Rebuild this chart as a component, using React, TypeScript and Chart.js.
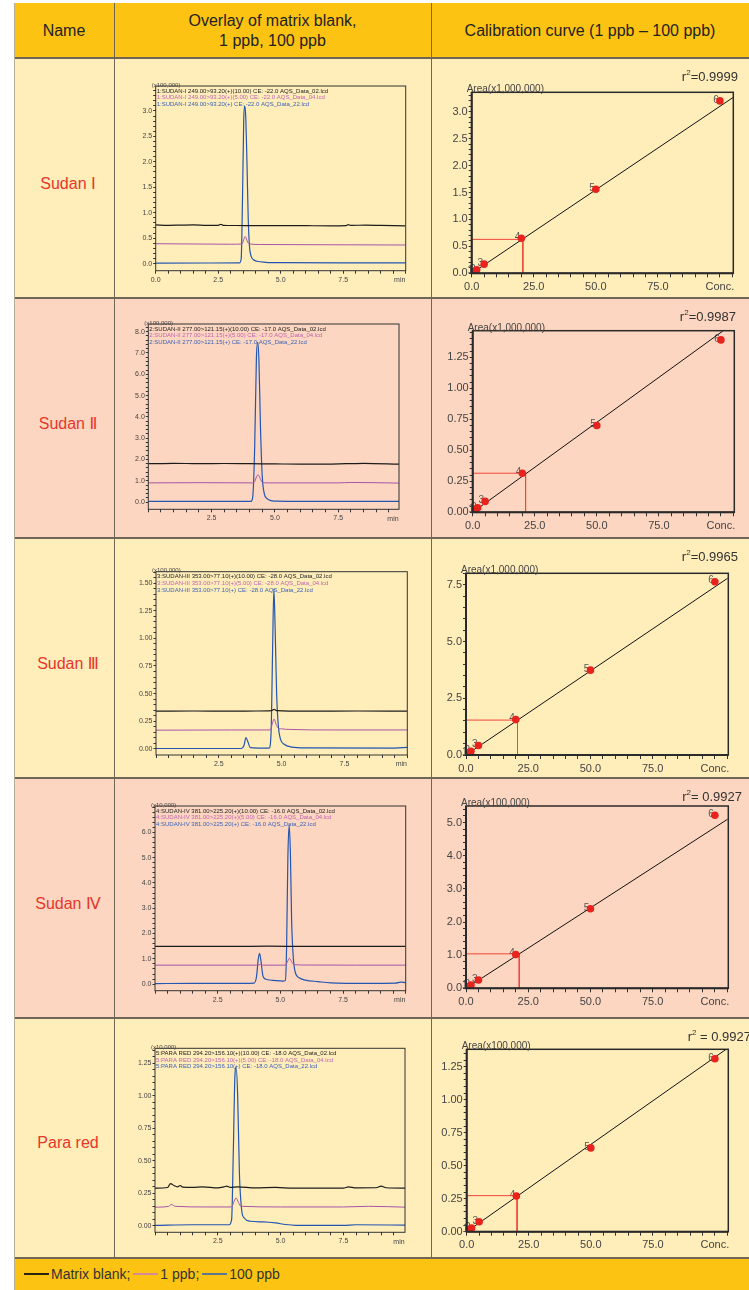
import React, { useEffect, useRef } from 'react';
import { Chart, registerables } from 'chart.js';

Chart.register(...registerables);

const FONT = '"Liberation Sans", Arial, "DejaVu Sans", sans-serif';
Chart.defaults.font.family = FONT;

// ---------------- text ----------------
const ROW_NAMES = ['Sudan Ⅰ', 'Sudan Ⅱ', 'Sudan Ⅲ', 'Sudan Ⅳ', 'Para red'];
const HEADER_NAME = 'Name';
const HEADER_OVERLAY = ['Overlay of matrix blank,', '1 ppb, 100 ppb'];
const HEADER_CAL = 'Calibration curve (1 ppb – 100 ppb)';
const LEGEND_LABELS = ['Matrix blank;', '1 ppb;', '100 ppb'];

// ---------------- chromatograms: [time (min), intensity] ----------------
const S1_BLANK = [[0,0.76],[0.5,0.752],[1.0,0.756],[1.5,0.76],[2.0,0.752],[2.5,0.75],[2.6,0.772],[2.7,0.752],[3.2,0.748],[4.0,0.745],[5.0,0.746],[6.0,0.744],[7.0,0.742],[7.6,0.746],[7.7,0.764],[7.8,0.75],[8.4,0.756],[9.0,0.75],[9.5,0.745],[10,0.74]];
const S1_LOW = [[0,0.39],[1.5,0.385],[3.0,0.38],[3.45,0.385],[3.52,0.47],[3.57,0.53],[3.62,0.5],[3.68,0.42],[3.75,0.385],[4.2,0.375],[7,0.37],[10,0.365]];
const S1_HIGH = [[0,0.01],[3.35,0.012],[3.42,0.1],[3.47,1.2],[3.52,2.8],[3.56,3.1],[3.6,2.9],[3.65,2.0],[3.7,0.9],[3.75,0.35],[3.82,0.14],[3.9,0.08],[4.05,0.045],[4.4,0.025],[5,0.018],[7.5,0.015],[10,0.015]];

const S2_BLANK = [[0,1.8],[1,1.82],[2,1.8],[3,1.81],[4,1.8],[5,1.79],[6,1.78],[7,1.78],[7.8,1.8],[8.5,1.82],[9.9,1.78]];
const S2_LOW = [[0,0.9],[2,0.91],[4.1,0.9],[4.2,0.96],[4.3,1.25],[4.35,1.27],[4.42,1.1],[4.5,0.93],[4.7,0.9],[7.5,0.9],[8,0.92],[9.9,0.89]];
const S2_HIGH = [[0,0.03],[4.05,0.03],[4.12,0.2],[4.2,2.5],[4.27,6.8],[4.32,7.5],[4.37,6.6],[4.43,3.5],[4.5,1.2],[4.58,0.4],[4.7,0.15],[4.85,0.07],[5.1,0.04],[6,0.03],[9.9,0.03]];

const S3_BLANK = [[0,0.34],[1.5,0.342],[3,0.34],[4.0,0.342],[4.6,0.345],[4.7,0.358],[4.8,0.345],[6,0.34],[8,0.342],[10,0.34]];
const S3_LOW = [[0,0.168],[3,0.17],[4.55,0.17],[4.62,0.22],[4.7,0.27],[4.78,0.22],[4.85,0.19],[5.0,0.18],[5.3,0.175],[7,0.17],[10,0.17]];
const S3_HIGH = [[0,0.002],[3.4,0.002],[3.5,0.03],[3.58,0.1],[3.66,0.06],[3.75,0.01],[4.5,0.005],[4.58,0.15],[4.64,0.9],[4.69,1.45],[4.74,1.1],[4.8,0.5],[4.87,0.2],[4.95,0.09],[5.1,0.04],[5.4,0.015],[6,0.008],[9.5,0.005],[10,0.012]];

const S4_BLANK = [[0,1.49],[1.5,1.495],[3,1.49],[4.5,1.5],[6,1.49],[8,1.492],[10,1.49]];
const S4_LOW = [[0,0.75],[4.1,0.75],[4.2,0.78],[4.3,0.75],[5.2,0.75],[5.28,0.88],[5.36,1.02],[5.44,0.9],[5.55,0.77],[6,0.755],[8,0.75],[10,0.75]];
const S4_HIGH = [[0,0.02],[1.5,0.03],[3.5,0.03],[3.95,0.04],[4.05,0.3],[4.12,1.0],[4.17,1.22],[4.23,0.9],[4.3,0.35],[4.4,0.2],[4.7,0.15],[5.1,0.12],[5.2,0.15],[5.25,1.5],[5.3,5.0],[5.35,6.28],[5.4,5.2],[5.45,2.5],[5.52,1.0],[5.6,0.45],[5.75,0.25],[6.0,0.16],[6.5,0.1],[7.0,0.05],[8.5,0.03],[9.6,0.04],[9.8,0.08],[10,0.06]];

const S5_BLANK = [[0,0.29],[0.5,0.295],[0.62,0.325],[0.75,0.31],[0.9,0.3],[1.0,0.31],[1.1,0.298],[1.5,0.295],[1.9,0.3],[2.5,0.292],[2.75,0.3],[2.85,0.305],[3.0,0.295],[3.3,0.3],[4,0.292],[4.8,0.295],[5.5,0.29],[6.5,0.29],[7.5,0.29],[7.7,0.3],[8,0.292],[8.8,0.293],[9.0,0.305],[9.2,0.293],[10,0.29]];
const S5_LOW = [[0,0.143],[0.55,0.15],[0.65,0.165],[0.8,0.15],[2,0.145],[3.05,0.145],[3.15,0.19],[3.23,0.215],[3.32,0.18],[3.42,0.15],[5,0.145],[7.5,0.145],[8.5,0.15],[10,0.143]];
const S5_HIGH = [[0,0.003],[1.5,0.008],[2.95,0.008],[3.05,0.05],[3.12,0.6],[3.18,1.15],[3.23,1.22],[3.29,1.0],[3.36,0.4],[3.45,0.12],[3.55,0.06],[3.8,0.035],[4.3,0.03],[4.8,0.022],[5.2,0.01],[5.6,0.004],[7.5,0.003],[8,0.008],[10,0.005]];

const CHROM_TRACES = [
  [S1_BLANK, S1_LOW, S1_HIGH],
  [S2_BLANK, S2_LOW, S2_HIGH],
  [S3_BLANK, S3_LOW, S3_HIGH],
  [S4_BLANK, S4_LOW, S4_HIGH],
  [S5_BLANK, S5_LOW, S5_HIGH],
];

const CHROM_LEGENDS = [
  ['1:SUDAN-I 249.00>93.20(+)(10.00) CE: -22.0 AQS_Data_02.lcd', '1:SUDAN-I 249.00>93.20(+)(5.00) CE: -22.0 AQS_Data_04.lcd', '1:SUDAN-I 249.00>93.20(+) CE: -22.0 AQS_Data_22.lcd'],
  ['2:SUDAN-II 277.00>121.15(+)(10.00) CE: -17.0 AQS_Data_02.lcd', '2:SUDAN-II 277.00>121.15(+)(5.00) CE: -17.0 AQS_Data_04.lcd', '2:SUDAN-II 277.00>121.15(+) CE: -17.0 AQS_Data_22.lcd'],
  ['3:SUDAN-III 353.00>77.10(+)(10.00) CE: -28.0 AQS_Data_02.lcd', '3:SUDAN-III 353.00>77.10(+)(5.00) CE: -28.0 AQS_Data_04.lcd', '3:SUDAN-III 353.00>77.10(+) CE: -28.0 AQS_Data_22.lcd'],
  ['4:SUDAN-IV 381.00>225.20(+)(10.00) CE: -16.0 AQS_Data_02.lcd', '4:SUDAN-IV 381.00>225.20(+)(5.00) CE: -16.0 AQS_Data_04.lcd', '4:SUDAN-IV 381.00>225.20(+) CE: -16.0 AQS_Data_22.lcd'],
  ['5:PARA RED 294.20>156.10(+)(10.00) CE: -18.0 AQS_Data_02.lcd', '5:PARA RED 294.20>156.10(+)(5.00) CE: -18.0 AQS_Data_04.lcd', '5:PARA RED 294.20>156.10(+) CE: -18.0 AQS_Data_22.lcd'],
];
const CHROM_UNITS = ['(x100,000)', '(x100,000)', '(x100,000)', '(x10,000)', '(x10,000)'];

// axis settings per chromatogram
const CHROM_Y_MIN = [-0.14, -0.34, -0.057, -0.26, -0.05];
const CHROM_Y_MAX = [3.49, 8.36, 1.605, 7.04, 1.366];
const CHROM_Y_MAJOR = [0.5, 1.0, 0.25, 1.0, 0.25];
const CHROM_Y_MINOR = [0.1, 0.2, 0.05, 0.2, 0.05];
const CHROM_Y_LABEL_MAX = [3.0, 8.0, 1.5, 6.0, 1.25];
const CHROM_Y_DEC = [1, 1, 2, 1, 2];
const CHROM_X_MAX = [10, 9.9, 10, 10, 9.95];
const CHROM_X_LABELS = [0, 2.5, 5, 7.5];
const CHROM_X_ZERO_LABEL = [true, false, false, false, false];

// ---------------- calibration curves ----------------
const CONC = [1, 2, 5, 20, 50, 100];
const AREA_1 = [0.03, 0.065, 0.17, 0.65, 1.56, 3.2];
const AREA_2 = [0.018, 0.036, 0.088, 0.315, 0.70, 1.39];
const AREA_3 = [0.08, 0.16, 0.42, 1.56, 3.74, 7.64];
const AREA_4 = [0.05, 0.1, 0.25, 1.02, 2.4, 5.22];
const AREA_5 = [0.014, 0.028, 0.075, 0.27, 0.635, 1.31];
const CAL_AREAS = [AREA_1, AREA_2, AREA_3, AREA_4, AREA_5];

// regression line ends [conc, area]
const FIT_1 = [[0, 0], [105.5, 3.27]];
const FIT_2 = [[0, 0], [105.5, 1.53]];
const FIT_3 = [[0, 0], [105.1, 7.79]];
const FIT_4 = [[0, 0], [105.1, 5.1]];
const FIT_5 = [[0, 0], [105.5, 1.395]];
const CAL_FITS = [FIT_1, FIT_2, FIT_3, FIT_4, FIT_5];

// red read-off guide lines [conc, area]
const GUIDE_1 = [[0, 0.63], [20.6, 0.63], [20.6, 0]];
const GUIDE_2 = [[0, 0.315], [21.3, 0.315], [21.3, 0]];
const GUIDE_3 = [[0, 1.54], [20.7, 1.54], [20.7, 0]];
const GUIDE_4 = [[0, 1.04], [21.4, 1.04], [21.4, 0]];
const GUIDE_5 = [[0, 0.273], [20.3, 0.273], [20.3, 0]];
const CAL_GUIDES = [GUIDE_1, GUIDE_2, GUIDE_3, GUIDE_4, GUIDE_5];

const CAL_UNITS = ['Area(x1,000,000)', 'Area(x1,000,000)', 'Area(x1,000,000)', 'Area(x100,000)', 'Area(x100,000)'];
const CAL_R2 = ['=0.9999', '=0.9987', '=0.9965', '= 0.9927', ' = 0.9927'];
const CAL_Y_MAX = [3.36, 1.464, 8.01, 5.5, 1.382];
const CAL_Y_MAJOR = [0.5, 0.25, 2.5, 1.0, 0.25];
const CAL_Y_MINOR = [0.1, 0.05, 0.5, 0.2, 0.05];
const CAL_Y_DEC = [1, 2, 1, 1, 2];
const CAL_X_MAX = 105.4;

// ---------------- layout (positions / styles) ----------------
const ROW_TOP = 58;
const ROW_H = 240;
const ROW_BG = ['#FFEDBA', '#FCD6C0', '#FFEDBA', '#FCD6C0', '#FFEDBA'];
const GOLD = '#FDC312';
const LINE_COL = '#6f6656';
const CHROM_BOX = [
  [40.7, 290.7, 28, 212.7],
  [33.3, 284, 26, 211.3],
  [41, 292.3, 33.7, 217],
  [40, 290.7, 28, 212.7],
  [40, 290, 30.3, 214.3],
];
const CAL_BOX = [
  [39.7, 301.3, 34.3, 215.3],
  [40.7, 302.3, 32.7, 214.3],
  [34, 296.3, 35.3, 217],
  [34, 296.3, 28, 210.3],
  [34.7, 296.3, 31.3, 213.7],
];
const CAL_R2_RIGHT = [306, 304, 306, 310, 319];
const TRACE_COLORS = ['#1c1c1c', '#A855A8', '#2355B2'];
const TRACE_TEXT_COLORS = ['#222222', '#C064B0', '#3A62BA'];
const LEGEND_SWATCH = ['#2a2410', '#D58A9A', '#5f7690'];

function makeTicks(min: number, max: number, step: number) {
  const out: { value: number }[] = [];
  const k0 = Math.ceil(min / step - 1e-9);
  const k1 = Math.floor(max / step + 1e-9);
  for (let k = k0; k <= k1; k++) out.push({ value: +(k * step).toFixed(6) });
  return out;
}
const isMult = (v: number, m: number) => Math.abs(v / m - Math.round(v / m)) < 1e-6;
const toXY = (arr: number[][]) => arr.map(([x, y]) => ({ x, y }));

const chromPlugin = {
  id: 'chromDeco',
  afterDraw(chart: any, _a: any, opts: any) {
    const { ctx, chartArea: a } = chart;
    ctx.save();
    ctx.strokeStyle = '#333';
    ctx.lineWidth = 1;
    ctx.strokeRect(a.left, a.top, a.right - a.left, a.bottom - a.top);
    ctx.font = `6px ${FONT}`;
    ctx.textAlign = 'left';
    ctx.textBaseline = 'middle';
    (opts.lines as string[]).forEach((t, i) => {
      ctx.fillStyle = TRACE_TEXT_COLORS[i];
      ctx.fillText(t, a.left + 1, a.top + 5 + i * 6.7);
    });
    ctx.fillStyle = '#444';
    ctx.textBaseline = 'alphabetic';
    ctx.fillText(opts.unit, a.left - 4, a.top + 0.5);
    ctx.font = `7px ${FONT}`;
    ctx.textAlign = 'center';
    ctx.textBaseline = 'middle';
    ctx.fillText('min', a.right - 6, a.bottom + 9.3);
    ctx.restore();
  },
};

const calPlugin = {
  id: 'calDeco',
  beforeDatasetsDraw(chart: any) {
    const { ctx } = chart;
    const meta = chart.getDatasetMeta(0);
    ctx.save();
    ctx.font = `10px ${FONT}`;
    ctx.fillStyle = '#555';
    ctx.textAlign = 'right';
    ctx.textBaseline = 'middle';
    meta.data.forEach((pt: any, i: number) => ctx.fillText(String(i + 1), pt.x - 1, pt.y - 1));
    ctx.restore();
  },
  afterDraw(chart: any, _a: any, opts: any) {
    const { ctx, chartArea: a } = chart;
    ctx.save();
    ctx.strokeStyle = '#2a2a2a';
    ctx.lineWidth = 1.5;
    ctx.strokeRect(a.left, a.top, a.right - a.left, a.bottom - a.top);
    ctx.lineWidth = 2;
    ctx.beginPath();
    ctx.moveTo(a.left, a.top);
    ctx.lineTo(a.left, a.bottom);
    ctx.lineTo(a.right, a.bottom);
    ctx.stroke();
    ctx.fillStyle = '#444';
    ctx.font = `10px ${FONT}`;
    ctx.textAlign = 'left';
    ctx.textBaseline = 'alphabetic';
    ctx.fillText(opts.unit, a.left - 5, a.top);
    ctx.fillStyle = '#333';
    const big = `13px ${FONT}`;
    const small = `8px ${FONT}`;
    ctx.font = big;
    const wR = ctx.measureText('r').width;
    const wRest = ctx.measureText(opts.r2).width;
    ctx.font = small;
    const w2 = ctx.measureText('2').width;
    const x0 = opts.r2Right - (wR + w2 + wRest);
    const y = 19;
    ctx.textBaseline = 'middle';
    ctx.font = big;
    ctx.fillText('r', x0, y);
    ctx.font = small;
    ctx.fillText('2', x0 + wR, y - 4);
    ctx.font = big;
    ctx.fillText(opts.r2, x0 + wR + w2, y);
    ctx.restore();
  },
};

function ChartCanvas({ make, left, top, width, height }: any) {
  const ref = useRef<HTMLCanvasElement>(null);
  useEffect(() => {
    const chart = new Chart(ref.current as HTMLCanvasElement, make());
    return () => chart.destroy();
  }, []);
  return (
    <canvas
      ref={ref}
      width={width}
      height={height}
      style={{ position: 'absolute', left, top, width, height }}
    />
  );
}

function chromConfig(i: number): any {
  const [L, R, T, B] = CHROM_BOX[i];
  const W = 315, H = 240;
  const yMin = CHROM_Y_MIN[i], yMax = CHROM_Y_MAX[i];
  return {
    type: 'line',
    data: {
      datasets: CHROM_TRACES[i].map((tr, k) => ({
        data: toXY(tr),
        borderColor: TRACE_COLORS[k],
        borderWidth: k === 1 ? 1 : 1.2,
        pointRadius: 0,
        cubicInterpolationMode: 'monotone',
        fill: false,
      })),
    },
    options: {
      responsive: false,
      animation: false,
      devicePixelRatio: 1,
      layout: { padding: { left: 0, right: W - R, top: T, bottom: 0 }, autoPadding: false },
      plugins: {
        legend: { display: false },
        tooltip: { enabled: false },
        chromDeco: { lines: CHROM_LEGENDS[i], unit: CHROM_UNITS[i] },
      },
      scales: {
        x: {
          type: 'linear',
          min: 0,
          max: CHROM_X_MAX[i],
          afterFit: (s: any) => { s.height = H - B; },
          afterBuildTicks: (s: any) => { s.ticks = makeTicks(0, CHROM_X_MAX[i], 0.5); },
          grid: { drawOnChartArea: false, drawTicks: true, tickLength: 3, color: '#333', tickWidth: 1 },
          border: { display: false },
          ticks: {
            autoSkip: false,
            maxRotation: 0,
            padding: 2,
            font: { size: 7 },
            color: '#444',
            callback: (v: number) =>
              CHROM_X_LABELS.some((l) => Math.abs(l - v) < 1e-6) && (v > 0 || CHROM_X_ZERO_LABEL[i]) ? v.toFixed(1) : '',
          },
        },
        y: {
          type: 'linear',
          min: yMin,
          max: yMax,
          afterFit: (s: any) => { s.width = L; },
          afterBuildTicks: (s: any) => { s.ticks = makeTicks(0, yMax, CHROM_Y_MINOR[i]); },
          grid: { drawOnChartArea: false, drawTicks: true, tickLength: 2.5, color: '#333', tickWidth: 1 },
          border: { display: false },
          ticks: {
            autoSkip: false,
            padding: 1,
            font: { size: 7 },
            color: '#444',
            callback: (v: number) =>
              isMult(v, CHROM_Y_MAJOR[i]) && v <= CHROM_Y_LABEL_MAX[i] + 1e-6 ? v.toFixed(CHROM_Y_DEC[i]) : '',
          },
        },
      },
    },
    plugins: [chromPlugin],
  };
}

function calConfig(i: number): any {
  const [L, R, T, B] = CAL_BOX[i];
  const W = 317, H = 240;
  const yMax = CAL_Y_MAX[i];
  return {
    type: 'scatter',
    data: {
      datasets: [
        {
          data: CONC.map((c, k) => ({ x: c, y: CAL_AREAS[i][k] })),
          backgroundColor: '#E8231E',
          borderWidth: 0,
          pointRadius: 3.8,
          order: 0,
        },
        {
          data: toXY(CAL_FITS[i]),
          showLine: true,
          borderColor: '#111',
          borderWidth: 1,
          pointRadius: 0,
          order: 1,
        },
        {
          data: toXY(CAL_GUIDES[i]),
          showLine: true,
          borderColor: '#F0473A',
          borderWidth: 1,
          pointRadius: 0,
          order: 2,
        },
      ],
    },
    options: {
      responsive: false,
      animation: false,
      devicePixelRatio: 1,
      layout: { padding: { left: 0, right: W - R, top: T, bottom: 0 }, autoPadding: false },
      plugins: {
        legend: { display: false },
        tooltip: { enabled: false },
        calDeco: { unit: CAL_UNITS[i], r2: CAL_R2[i], r2Right: CAL_R2_RIGHT[i] },
      },
      scales: {
        x: {
          type: 'linear',
          min: 0,
          max: CAL_X_MAX,
          afterFit: (s: any) => { s.height = H - B; },
          afterBuildTicks: (s: any) => { s.ticks = makeTicks(0, CAL_X_MAX, 5); },
          grid: { drawOnChartArea: false, drawTicks: true, tickLength: 4, color: '#333', tickWidth: 1 },
          border: { display: false },
          ticks: {
            autoSkip: false,
            maxRotation: 0,
            padding: 3,
            font: { size: 11 },
            color: '#444',
            callback: (v: number) => (v === 100 ? 'Conc.' : isMult(v, 25) && v < 100 ? v.toFixed(1) : ''),
          },
        },
        y: {
          type: 'linear',
          min: 0,
          max: yMax,
          afterFit: (s: any) => { s.width = L; },
          afterBuildTicks: (s: any) => { s.ticks = makeTicks(0, yMax, CAL_Y_MINOR[i]); },
          grid: { drawOnChartArea: false, drawTicks: true, tickLength: 3, color: '#333', tickWidth: 1 },
          border: { display: false },
          ticks: {
            autoSkip: false,
            padding: 1,
            font: { size: 11 },
            color: '#444',
            callback: (v: number) => (isMult(v, CAL_Y_MAJOR[i]) ? v.toFixed(CAL_Y_DEC[i]) : ''),
          },
        },
      },
    },
    plugins: [calPlugin],
  };
}

export default function App() {
  const abs = (s: any) => ({ position: 'absolute' as const, ...s });
  return (
    <div style={abs({ left: 0, top: 0, width: 749, height: 1290, background: '#fff', overflow: 'hidden', fontFamily: FONT, color: '#222' })}>
      {/* header */}
      <div style={abs({ left: 14, top: 3, width: 735, height: 55, background: GOLD })} />
      <div style={abs({ left: 14, top: 3, width: 100, height: 55, display: 'flex', alignItems: 'center', justifyContent: 'center', fontSize: 16 })}>{HEADER_NAME}</div>
      <div style={abs({ left: 114, top: 3, width: 317, height: 55, display: 'flex', flexDirection: 'column', alignItems: 'center', justifyContent: 'center', fontSize: 16, lineHeight: '20px' })}>
        <div>{HEADER_OVERLAY[0]}</div>
        <div>{HEADER_OVERLAY[1]}</div>
      </div>
      <div style={abs({ left: 431, top: 3, width: 318, height: 55, display: 'flex', alignItems: 'center', justifyContent: 'center', fontSize: 16 })}>{HEADER_CAL}</div>

      {/* rows */}
      {ROW_NAMES.map((n, i) => (
        <div key={'r' + i} style={abs({ left: 14, top: ROW_TOP + i * ROW_H, width: 735, height: ROW_H, background: ROW_BG[i] })} />
      ))}
      {ROW_NAMES.map((n, i) => (
        <div key={'n' + i} style={abs({ left: 18, top: ROW_TOP + i * ROW_H + 10, width: 100, height: ROW_H - 10, display: 'flex', alignItems: 'center', justifyContent: 'center', fontSize: 16, color: '#E8362B' })}>{n}</div>
      ))}

      {/* legend row */}
      <div style={abs({ left: 14, top: 1258, width: 735, height: 32, background: GOLD })} />
      <div style={abs({ left: 24, top: 1258, height: 32, display: 'flex', alignItems: 'center', fontSize: 14, color: '#333' })}>
        {LEGEND_LABELS.map((l, i) => (
          <React.Fragment key={l}>
            <span style={{ display: 'inline-block', width: 25, height: 1.5, background: LEGEND_SWATCH[i], marginRight: 2, marginLeft: i ? 3 : 0 }} />
            <span>{l}</span>
          </React.Fragment>
        ))}
      </div>

      {/* grid lines */}
      {[57, 297, 537, 777, 1017, 1257].map((y) => (
        <div key={'h' + y} style={abs({ left: 14, top: y, width: 735, height: 2, background: LINE_COL })} />
      ))}
      {[114, 431].map((x) => (
        <div key={'v' + x} style={abs({ left: x, top: 3, width: 1, height: 1255, background: LINE_COL })} />
      ))}
      <div style={abs({ left: 14, top: 3, width: 1, height: 1287, background: '#b5ab98' })} />

      {/* charts */}
      {ROW_NAMES.map((n, i) => (
        <ChartCanvas key={'c' + i} make={() => chromConfig(i)} left={115} top={ROW_TOP + i * ROW_H} width={315} height={240} />
      ))}
      {ROW_NAMES.map((n, i) => (
        <ChartCanvas key={'k' + i} make={() => calConfig(i)} left={432} top={ROW_TOP + i * ROW_H} width={317} height={240} />
      ))}
    </div>
  );
}
